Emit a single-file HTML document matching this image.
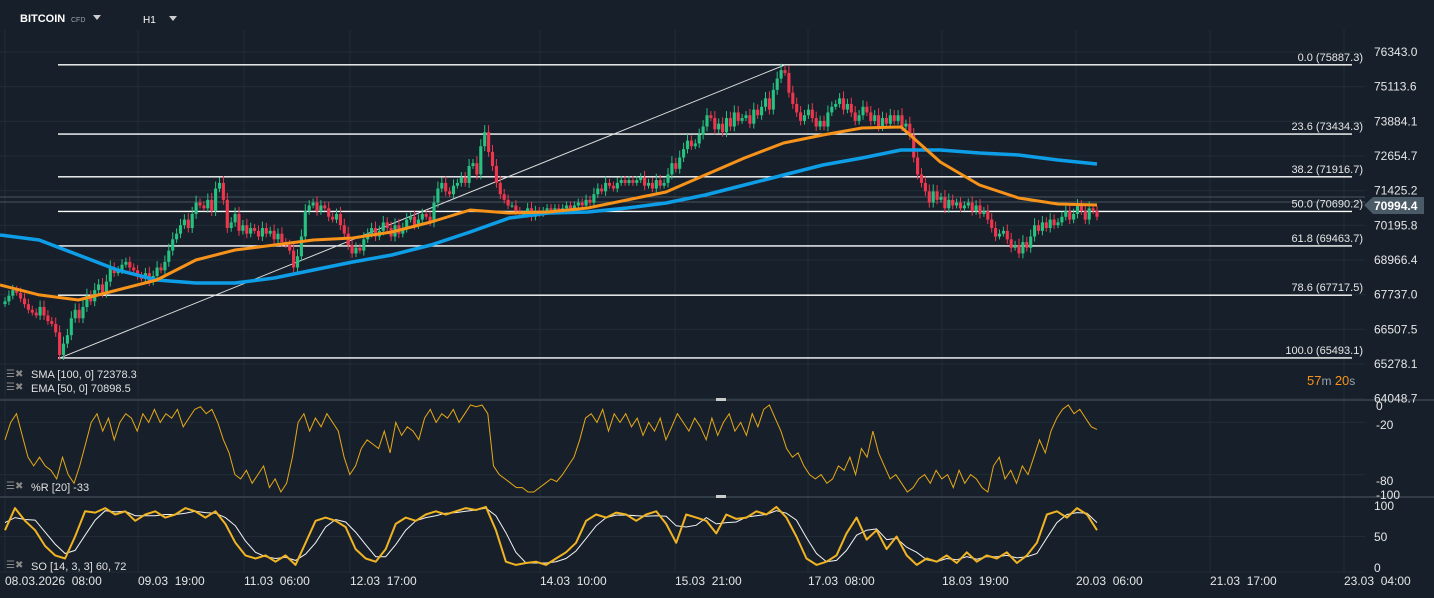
<!DOCTYPE html>
<html><head><meta charset="utf-8">
<style>
html,body{margin:0;padding:0;background:#17202a;}
svg{display:block;font-family:"Liberation Sans",sans-serif;}
</style></head>
<body>
<svg id="c" width="1434" height="598" viewBox="0 0 1434 598">
<rect x="0" y="0" width="1434" height="598" fill="#17202a"/>
<g id="grid"></g>
<g id="fib"></g>
<g id="candles"></g>
<g id="mas"></g>
<g id="osc"></g>
<g id="axes"></g>
<g>
<text x="20" y="22" fill="#fff" font-size="11" font-weight="bold">BITCOIN</text>
<text x="71" y="22" fill="#9aa3ad" font-size="7">CFD</text>
<path d="M93 15 L101 15 L97 20 Z" fill="#ccc"/>
<text x="143" y="23" fill="#fff" font-size="10">H1</text>
<path d="M169 16 L177 16 L173 21 Z" fill="#ccc"/>
</g>
<g font-size="11" fill="#e0e0e0">
<text x="6" y="377" fill="#888" font-size="10">☰✖</text>
<text x="31" y="378">SMA [100,  0] 72378.3</text>
<text x="6" y="390" fill="#888" font-size="10">☰✖</text>
<text x="31" y="392">EMA [50,  0] 70898.5</text>
<text x="6" y="489" fill="#888" font-size="10">☰✖</text>
<text x="31" y="491">%R [20]  -33</text>
<text x="6" y="568" fill="#888" font-size="10">☰✖</text>
<text x="31" y="570">SO [14, 3, 3] 60, 72</text>
</g>
<text x="1307" y="385" font-size="13" fill="#f7931a">57<tspan fill="#9aa3ad" font-size="12">m </tspan>20<tspan fill="#9aa3ad" font-size="12">s</tspan></text>
</svg>
<script>
const closes=[67500,67700,67900,67800,67600,67400,67200,67100,67000,67300,
67000,66800,66700,66400,65600,66000,66300,66900,67200,66900,
67300,67700,67500,67900,68100,67800,68200,68700,68500,68600,
68800,68900,68700,68600,68400,68300,68500,68200,68400,68700,
68600,68900,69300,69700,69900,70200,70400,70100,70600,71000,
70900,70800,71100,70700,71500,71700,71100,70100,70300,70600,
70000,70200,69900,70100,70000,69800,70100,69900,70000,69700,
69900,69600,69500,69300,68700,69100,69800,70700,70900,71000,
70700,70900,70800,70500,70400,70600,70200,69900,69500,69200,
69400,69300,69700,69900,70100,69800,70000,70300,70100,69800,
70200,69900,70100,70400,70500,70200,70400,70600,70500,70300,
71000,71500,71700,71400,71300,71600,71700,71900,71700,72300,
72400,72000,73000,73500,72800,72300,71700,71300,71100,70900,
70900,70700,70600,70600,70800,70500,70700,70600,70700,70800,
70700,70800,70700,70800,70900,70800,70900,71000,70900,71100,
71000,71300,71500,71400,71700,71600,71500,71700,71800,71700,
71800,71700,71800,71900,71600,71700,71500,71800,71600,71700,
72000,72400,72200,72600,72900,73200,73000,73100,73400,73700,
74100,74000,73600,73800,73500,74000,73700,74200,73900,74000,
74100,73800,74300,74100,74400,74700,74300,75000,75400,75700,
75600,74900,74500,74200,73900,74100,74300,74000,73700,73900,
73700,74200,74400,74500,74700,74300,74500,74200,73900,74100,
74400,74200,73900,74100,73700,74000,73800,74100,73900,74100,
73700,73800,73400,72600,72000,71700,71400,71000,71400,71100,
71200,70800,71100,70900,71000,70800,70900,71000,70700,70900,
70600,70700,70400,70100,69800,69900,70000,69700,69400,69500,
69200,69600,69400,69800,70200,70000,70300,70100,70400,70200,
70300,70500,70700,70400,70600,70900,70700,70400,70800,70700,70500];
const firstOpen=67400;
const smaVals=[69854,69676,69145,68613,68258,68152,68152,68329,68613,68896,69145,69499,69960,70457,70634,70670,70811,70989,71272,71627,71982,72336,72584,72868,72868,72762,72691,72514,72371];
const emaVals=[68081,67727,67549,67904,68258,68967,69322,69499,69676,69747,69960,70315,70740,70634,70670,70811,71095,71379,71982,72584,73116,73400,73648,73684,72442,71627,71166,70953,70918];
const fibLevels=[0,23.6,38.2,50.0,61.8,78.6,100.0];
const fibPrices=[75887.3,73434.3,71916.7,70690.2,69463.7,67717.5,65493.1];
const priceTicks=[76343.0,75113.6,73884.1,72654.7,71425.2,70195.8,68966.4,67737.0,66507.5,65278.1,64048.7];
const timeLabels=["08.03.2026  08:00","09.03  19:00","11.03  06:00","12.03  17:00","14.03  10:00","15.03  21:00","17.03  08:00","18.03  19:00","20.03  06:00","21.03  17:00","23.03  04:00"];
const wrVals=[-40,-20,-10,-35,-60,-70,-60,-70,-75,-85,-60,-80,-90,-70,-45,-20,-10,-30,-15,-40,-20,-10,-15,-30,-10,-20,-5,-20,-10,-15,-5,-25,-15,-5,-2,-10,-5,-20,-40,-55,-80,-85,-75,-90,-80,-70,-95,-85,-100,-90,-60,-20,-10,-30,-15,-25,-10,-20,-30,-60,-80,-70,-50,-40,-45,-50,-30,-55,-20,-35,-25,-30,-40,-15,-5,-20,-10,-15,-5,-20,-10,0,-2,0,-10,-70,-80,-85,-90,-95,-95,-100,-100,-95,-90,-85,-88,-80,-70,-60,-40,-15,-10,-20,-5,-30,-10,-20,-10,-25,-15,-35,-20,-30,-15,-40,-25,-10,-20,-30,-15,-25,-40,-15,-35,-20,-10,-30,-20,-35,-10,-25,-5,0,-15,-30,-50,-60,-55,-70,-80,-85,-80,-90,-85,-70,-75,-60,-80,-50,-60,-30,-55,-70,-85,-80,-90,-100,-95,-85,-80,-90,-75,-85,-80,-95,-75,-90,-80,-85,-95,-100,-70,-60,-85,-75,-90,-70,-80,-60,-40,-55,-30,-15,-5,0,-10,-5,-15,-25,-28];
const soK=[60,95,75,60,35,20,15,50,90,88,95,85,90,75,85,90,80,85,95,90,80,90,70,40,20,15,20,10,20,5,40,75,80,75,65,30,15,10,30,70,80,75,85,90,85,90,95,92,97,60,10,5,8,10,5,15,25,40,75,85,80,88,85,75,85,90,70,40,85,80,75,55,85,78,80,90,85,97,80,50,15,5,10,20,55,80,45,60,30,50,20,5,15,10,20,8,25,10,20,15,25,8,20,40,85,90,80,95,85,60];
const soD=[72,80,77,76,57,38,23,28,52,76,91,89,90,83,83,83,85,85,87,90,88,87,80,67,43,25,18,15,17,12,22,40,65,77,73,57,37,18,18,37,60,75,80,83,87,88,90,92,95,83,56,25,8,8,8,10,15,27,47,67,80,84,84,83,82,83,82,67,65,68,80,70,72,73,81,83,85,91,87,76,48,23,10,12,28,52,60,62,45,47,33,25,13,10,15,13,18,14,18,18,20,16,18,23,48,72,85,88,87,72];

const NS="http://www.w3.org/2000/svg";
function mk(tag,attrs,parent){const e=document.createElementNS(NS,tag);for(const k in attrs)e.setAttribute(k,attrs[k]);parent.appendChild(e);return e;}
const X0=5,X1=1097;
const N=closes.length;
const xAt=i=>X0+i*(X1-X0)/(N-1);
const yP=p=>52+(76343-p)*(312/(76343-65278.1));
const yWR=v=>405+(-v)*(87/100);
const ySO=v=>568-v*(63/100);

const grid=document.getElementById('grid');
const gridXs=[5,138,244,350,540,675,808,942,1076,1210,1344];
gridXs.forEach((gx,i)=>{const l=mk('line',{x1:gx,x2:gx,y1:30,y2:572,stroke:'#222c36','stroke-width':1},grid);

});
priceTicks.forEach(p=>{const l=mk('line',{x1:0,x2:1365,y1:yP(p),y2:yP(p),stroke:'#222c36','stroke-width':1},grid);

});
[-20,-80].forEach(v=>{const l=mk('line',{x1:0,x2:1365,y1:yWR(v),y2:yWR(v),stroke:'#222c36'},grid);

});
[50,0].forEach(v=>{const l=mk('line',{x1:0,x2:1365,y1:ySO(v)+(v===0?4:0),y2:ySO(v)+(v===0?4:0),stroke:'#222c36'},grid);

});
[400,497].forEach(y=>{const l=mk('line',{x1:0,x2:1434,y1:y,y2:y,stroke:'#3a4550','stroke-width':1.5},grid);


const h=mk('rect',{x:716,y:y-2,width:10,height:3,fill:'#ccc'},grid);

});
[197,202].forEach(y=>{const l=mk('line',{x1:0,x2:1365,y1:y,y2:y,stroke:'#4a5560','stroke-width':1},grid);

});

const fib=document.getElementById('fib');
fibPrices.forEach((p,i)=>{const y=yP(p);
const l=mk('line',{x1:58,x2:1352,y1:y,y2:y,stroke:'#fff','stroke-width':1.4},fib);


const t=mk('text',{x:1363,y:y-4,'text-anchor':'end','font-size':11,fill:'#e6e6e6'},fib);
t.textContent=fibLevels[i].toFixed(1)+' ('+p.toFixed(1)+')';

});
const tl=mk('line',{x1:60,y1:yP(fibPrices[6]),x2:785,y2:yP(fibPrices[0]),stroke:'#ddd','stroke-width':1},fib);



const cg=document.getElementById('candles');
const pitch=(X1-X0)/(N-1);
for(let i=0;i<N;i++){
 const o=i===0?firstOpen:closes[i-1],c=closes[i];
 const up=c>=o,col=up?'#26c281':'#f0364e';
 const yt=yP(Math.max(o,c)),yb=yP(Math.min(o,c));
 const body=Math.max(yb-yt,1);
 const w=Math.min(7,body*0.4+3);
 const x=xAt(i);
 const wk=mk('line',{x1:x,x2:x,y1:yt-w,y2:yb+w*0.7,stroke:col,'stroke-width':1},cg);
 
 
 const r=mk('rect',{x:x-pitch*0.4,y:yt,width:pitch*0.8,height:body,fill:col},cg);
 
 
}

const mg=document.getElementById('mas');
function series(vals,x0,x1){return vals.map((v,i)=>[x0+i*(x1-x0)/(vals.length-1),v]);}
const smaPts=series(smaVals,0,1097).map(([x,v])=>x.toFixed(1)+','+yP(v).toFixed(1)).join(' ');
const sma=mk('polyline',{points:smaPts,fill:'none',stroke:'#0e9ee8','stroke-width':3.5,'stroke-linejoin':'round'},mg);


const emaPts=series(emaVals,0,1097).map(([x,v])=>x.toFixed(1)+','+yP(v).toFixed(1)).join(' ');
const ema=mk('polyline',{points:emaPts,fill:'none',stroke:'#f7931a','stroke-width':3,'stroke-linejoin':'round'},mg);



const og=document.getElementById('osc');
const wrPts=series(wrVals,5,1097).map(([x,v])=>x.toFixed(1)+','+yWR(v).toFixed(1)).join(' ');
const wr=mk('polyline',{points:wrPts,fill:'none',stroke:'#e6a817','stroke-width':1},og);


const dPts=series(soD,5,1097).map(([x,v])=>x.toFixed(1)+','+ySO(v).toFixed(1)).join(' ');
const d=mk('polyline',{points:dPts,fill:'none',stroke:'#f2f2f2','stroke-width':1},og);


const kPts=series(soK,5,1097).map(([x,v])=>x.toFixed(1)+','+ySO(v).toFixed(1)).join(' ');
const k=mk('polyline',{points:kPts,fill:'none',stroke:'#f0b323','stroke-width':2,'stroke-linejoin':'round'},og);



const ax=document.getElementById('axes');
priceTicks.forEach(p=>{const t=mk('text',{x:1374,y:yP(p)+4,'font-size':12,fill:'#e6e6e6'},ax);
t.textContent=p.toFixed(1);

});
const tag=mk('path',{d:'M1364 205 L1373 197 L1424 197 L1424 214 L1373 214 Z',fill:'#4a5a66'},ax);


const tt=mk('text',{x:1374,y:210,'font-size':12,'font-weight':'bold',fill:'#fff'},ax);
tt.textContent='70994.4';


[['0',407],['-20',426],['-80',482],['-100',496]].forEach(([s,y])=>{const t=mk('text',{x:1376,y:y+3,'font-size':12,fill:'#e6e6e6'},ax);
t.textContent=s;

});
[['100',510],['50',541],['0',572]].forEach(([s,y])=>{const t=mk('text',{x:1374,y:y,'font-size':12,fill:'#e6e6e6'},ax);
t.textContent=s;

});
timeLabels.forEach((s,i)=>{const t=mk('text',{x:gridXs[i],y:585,'font-size':12,fill:'#e6e6e6'},ax);
t.textContent=s;


t.style.whiteSpace='pre';});
</script>
</body></html>
